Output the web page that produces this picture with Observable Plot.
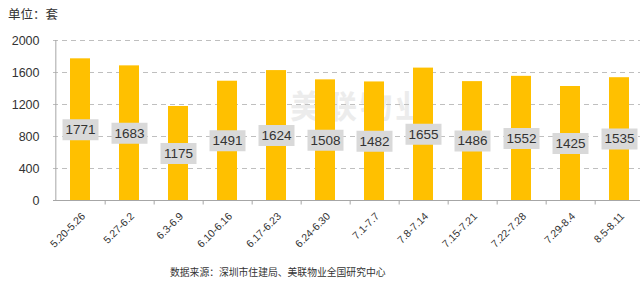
<!DOCTYPE html>
<html>
<head>
<meta charset="utf-8">
<script src="https://cdn.jsdelivr.net/npm/d3@7"></script>
<script src="https://cdn.jsdelivr.net/npm/@observablehq/plot@0.6"></script>
<style>
  html, body { margin: 0; padding: 0; background: #fff; width: 640px; height: 286px; overflow: hidden; }
  #title { height: 28px; line-height: 28px; padding-left: 8px; font-family: "Noto Sans CJK SC", sans-serif; font-size: 12.5px; color: #333; }
  #chart { position: relative; height: 238px; }
  #chart svg { position: relative; z-index: 1; }
  #caption { height: 20px; line-height: 12px; padding-left: 170px; font-family: "Noto Sans CJK SC", sans-serif; font-size: 9.8px; color: #333; }
  #wm { position: absolute; z-index: 0; left: 290px; top: 60px; font-family: "Noto Sans CJK SC", sans-serif; font-size: 32px; font-weight: 700; line-height: 32px; height: 32px; color: #ececec; letter-spacing: 3px; white-space: nowrap; }
</style>
</head>
<body>
<div id="title">单位：套</div>
<div id="chart"><div id="wm">美联物业</div></div>
<div id="caption">数据来源：深圳市住建局、美联物业全国研究中心</div>
<script>
const weeks = ["5.20-5.26","5.27-6.2","6.3-6.9","6.10-6.16","6.17-6.23","6.24-6.30","7.1-7.7","7.8-7.14","7.15-7.21","7.22-7.28","7.29-8.4","8.5-8.11"];
const sales = [1771,1683,1175,1491,1624,1508,1482,1655,1486,1552,1425,1535];
const yTicks = [0,400,800,1200,1600,2000];
const gridValues = [400,800,1200,1600,2000];

const data = weeks.map((w, i) => ({week: w, v: sales[i]}));

const W = 640, ML = 53, MR = -5;
const step = (W - ML - MR) / weeks.length;

const boxSymbol = { draw(ctx) { ctx.rect(-18, -10.5, 36, 21); } };
const tickSymbol = { draw(ctx) { ctx.moveTo(0, 0); ctx.lineTo(0, 4); } };

const chart = Plot.plot({
  width: W, height: 238,
  marginLeft: ML, marginRight: MR, marginTop: 12, marginBottom: 66,
  style: { fontFamily: "Liberation Sans, Arial, sans-serif", color: "#333", background: "transparent", overflow: "visible" },
  x: { domain: weeks, paddingInner: 0.6, paddingOuter: 0.3, label: null },
  y: { domain: [0, 2000], label: null },
  marks: [
    Plot.ruleY(gridValues, { stroke: "#bfbfbf", strokeWidth: 1, strokeDasharray: "5,4" }),
    Plot.barY(data, { x: "week", y: "v", fill: "#FFC000" }),
    Plot.ruleY([0], { stroke: "#a6a6a6", strokeWidth: 1 }),
    Plot.ruleX([weeks[0]], { x: d => d, y1: 0, y2: 2000, dx: -step / 2, stroke: "#a6a6a6", strokeWidth: 1 }),
    Plot.dot(weeks, { x: d => d, y: 0, dx: step / 2, symbol: tickSymbol, stroke: "#a6a6a6", fill: "none", strokeWidth: 1 }),
    Plot.dot(data, { x: "week", y: d => d.v / 2, symbol: boxSymbol, fill: "#d9d9d9", stroke: "none" }),
    Plot.text(data, { x: "week", y: d => d.v / 2, text: d => String(d.v), fontSize: 13.5, fill: "#333" }),
    Plot.axisY(yTicks, { tickSize: 0, tickPadding: 14, tickFormat: d => String(d), fontSize: 12.5, fill: "#333", label: null }),
    Plot.axisX({ tickSize: 0, tickPadding: 14, tickRotate: -45, dx: 3, fontSize: 10.5, fill: "#333", label: null })
  ]
});
document.getElementById("chart").appendChild(chart);
</script>
</body>
</html>
